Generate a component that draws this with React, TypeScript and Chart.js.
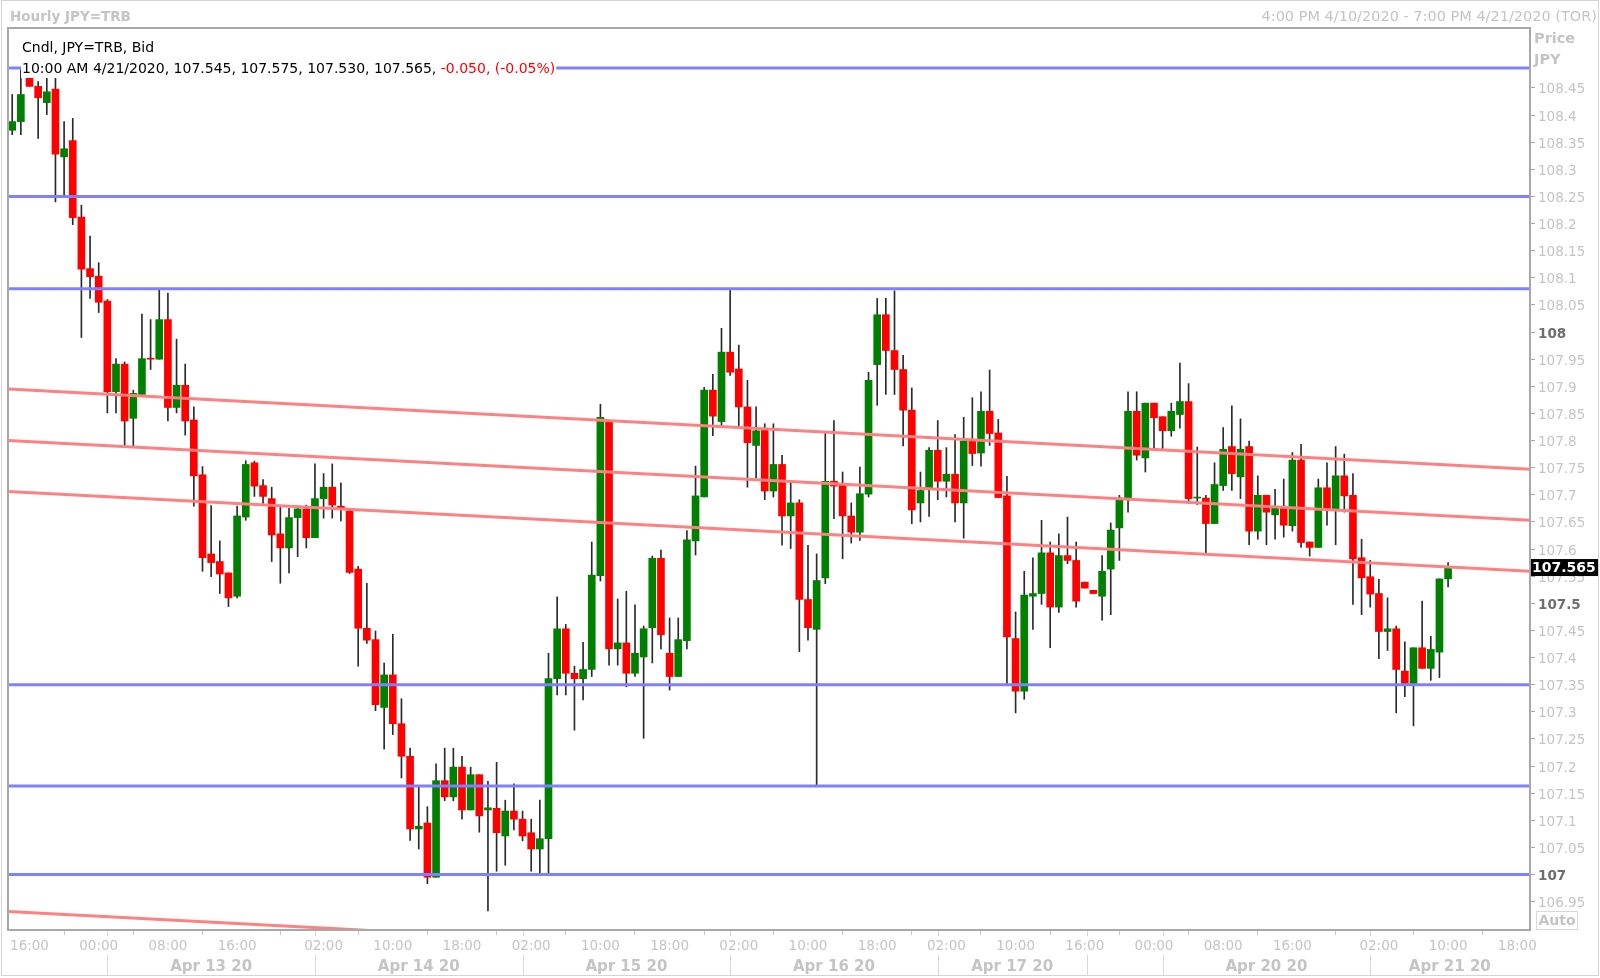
import React, { useEffect, useRef } from 'react';
import { Chart, registerables } from 'chart.js';

Chart.register(...registerables);

// ---- hourly candles (bar index 0 = first visible candle) ----
const opens = [
  108.372, 108.388, 108.471, 108.453, 108.423, 108.448, 108.323, 108.353, 108.212, 108.117,
  108.103, 108.057, 107.890, 107.941, 107.841, 107.885, 107.951, 107.950, 108.023, 107.861,
  107.902, 107.838, 107.737, 107.591, 107.577, 107.556, 107.513, 107.659, 107.759, 107.717,
  107.693, 107.628, 107.602, 107.658, 107.674, 107.621, 107.693, 107.714, 107.679, 107.670,
  107.563, 107.454, 107.433, 107.308, 107.368, 107.278, 107.218, 107.084, 107.095, 106.995,
  107.173, 107.143, 107.198, 107.119, 107.184, 107.119, 107.122, 107.071, 107.117, 107.102,
  107.077, 107.047, 107.066, 107.361, 107.453, 107.371, 107.361, 107.378, 107.551, 107.834,
  107.416, 107.427, 107.371, 107.401, 107.455, 107.583, 107.408, 107.365, 107.431, 107.615,
  107.696, 107.893, 107.835, 107.963, 107.932, 107.862, 107.791, 107.819, 107.707, 107.756,
  107.661, 107.685, 107.507, 107.452, 107.547, 107.725, 107.719, 107.661, 107.631, 107.701,
  107.940, 108.032, 107.966, 107.931, 107.856, 107.685, 107.711, 107.782, 107.725, 107.738,
  107.685, 107.799, 107.777, 107.854, 107.814, 107.698, 107.435, 107.338, 107.513, 107.518,
  107.593, 107.493, 107.588, 107.579, 107.539, 107.524, 107.513, 107.563, 107.639, 107.693,
  107.854, 107.768, 107.869, 107.844, 107.818, 107.848, 107.872, 107.694, 107.694, 107.647,
  107.717, 107.789, 107.733, 107.789, 107.633, 107.699, 107.663, 107.678, 107.643, 107.764,
  107.613, 107.603, 107.713, 107.673, 107.735, 107.699, 107.584, 107.549, 107.518, 107.448,
  107.453, 107.375, 107.352, 107.418, 107.380, 107.410, 107.545,
];
const highs = [
  108.438, 108.484, 108.474, 108.462, 108.471, 108.471, 108.388, 108.394, 108.234, 108.177,
  108.128, 108.060, 107.951, 107.945, 107.893, 108.033, 108.023, 108.078, 108.072, 107.987,
  107.941, 107.862, 107.752, 107.680, 107.615, 107.556, 107.679, 107.763, 107.762, 107.728,
  107.714, 107.677, 107.675, 107.677, 107.681, 107.757, 107.739, 107.757, 107.722, 107.672,
  107.568, 107.537, 107.449, 107.390, 107.443, 107.324, 107.233, 107.162, 107.125, 107.204,
  107.233, 107.233, 107.218, 107.198, 107.184, 107.172, 107.207, 107.137, 107.167, 107.117,
  107.102, 107.137, 107.408, 107.512, 107.461, 107.384, 107.428, 107.613, 107.867, 107.838,
  107.508, 107.522, 107.497, 107.458, 107.587, 107.598, 107.473, 107.473, 107.634, 107.753,
  107.898, 107.922, 108.007, 108.080, 107.976, 107.911, 107.862, 107.831, 107.831, 107.773,
  107.725, 107.691, 107.607, 107.591, 107.813, 107.837, 107.742, 107.685, 107.751, 107.926,
  108.062, 108.062, 108.076, 107.957, 107.897, 107.742, 107.787, 107.837, 107.787, 107.811,
  107.843, 107.879, 107.890, 107.930, 107.839, 107.734, 107.484, 107.559, 107.584, 107.653,
  107.613, 107.628, 107.659, 107.613, 107.539, 107.524, 107.588, 107.648, 107.699, 107.890,
  107.890, 107.869, 107.869, 107.844, 107.869, 107.943, 107.905, 107.788, 107.699, 107.759,
  107.824, 107.864, 107.840, 107.799, 107.735, 107.699, 107.710, 107.729, 107.778, 107.793,
  107.613, 107.729, 107.759, 107.789, 107.775, 107.739, 107.618, 107.579, 107.544, 107.510,
  107.458, 107.429, 107.418, 107.504, 107.439, 107.545, 107.575,
];
const lows = [
  108.364, 108.364, 108.453, 108.357, 108.401, 108.240, 108.250, 108.198, 107.990, 108.062,
  108.036, 107.851, 107.851, 107.789, 107.789, 107.885, 107.931, 107.950, 107.836, 107.851,
  107.810, 107.679, 107.559, 107.549, 107.518, 107.494, 107.510, 107.653, 107.697, 107.684,
  107.577, 107.537, 107.556, 107.586, 107.602, 107.621, 107.657, 107.657, 107.652, 107.555,
  107.384, 107.426, 107.302, 107.231, 107.258, 107.178, 107.063, 107.047, 106.983, 106.995,
  107.136, 107.136, 107.102, 107.119, 107.078, 106.933, 107.006, 107.017, 107.082, 107.062,
  107.006, 107.000, 107.000, 107.331, 107.331, 107.266, 107.322, 107.365, 107.541, 107.386,
  107.386, 107.346, 107.365, 107.251, 107.390, 107.416, 107.340, 107.365, 107.416, 107.589,
  107.696, 107.809, 107.826, 107.920, 107.825, 107.714, 107.731, 107.691, 107.696, 107.607,
  107.601, 107.411, 107.432, 107.164, 107.536, 107.656, 107.582, 107.611, 107.616, 107.696,
  107.865, 107.885, 107.885, 107.790, 107.647, 107.650, 107.660, 107.691, 107.696, 107.650,
  107.620, 107.754, 107.753, 107.791, 107.695, 107.352, 107.298, 107.323, 107.452, 107.498,
  107.418, 107.483, 107.573, 107.493, 107.528, 107.518, 107.469, 107.479, 107.579, 107.668,
  107.764, 107.742, 107.786, 107.782, 107.808, 107.823, 107.684, 107.682, 107.590, 107.647,
  107.708, 107.708, 107.693, 107.608, 107.618, 107.608, 107.618, 107.622, 107.633, 107.603,
  107.587, 107.603, 107.644, 107.608, 107.668, 107.498, 107.479, 107.493, 107.398, 107.413,
  107.298, 107.328, 107.274, 107.380, 107.358, 107.363, 107.530,
];
const closes = [
  108.388, 108.438, 108.453, 108.432, 108.443, 108.328, 108.338, 108.211, 108.116, 108.102,
  108.055, 107.890, 107.941, 107.836, 107.887, 107.951, 107.950, 108.023, 107.861, 107.902,
  107.836, 107.735, 107.584, 107.575, 107.554, 107.510, 107.661, 107.756, 107.716, 107.697,
  107.626, 107.602, 107.658, 107.674, 107.621, 107.693, 107.714, 107.681, 107.676, 107.557,
  107.454, 107.432, 107.313, 107.368, 107.278, 107.218, 107.084, 107.089, 106.995, 107.173,
  107.143, 107.198, 107.119, 107.184, 107.108, 107.123, 107.077, 107.117, 107.102, 107.071,
  107.047, 107.066, 107.361, 107.453, 107.371, 107.361, 107.378, 107.552, 107.843, 107.416,
  107.427, 107.371, 107.408, 107.453, 107.583, 107.442, 107.365, 107.433, 107.617, 107.698,
  107.893, 107.845, 107.963, 107.926, 107.862, 107.796, 107.818, 107.707, 107.756, 107.661,
  107.685, 107.507, 107.455, 107.542, 107.725, 107.716, 107.661, 107.631, 107.702, 107.911,
  108.032, 107.966, 107.931, 107.856, 107.672, 107.708, 107.782, 107.725, 107.738, 107.685,
  107.799, 107.776, 107.854, 107.813, 107.695, 107.438, 107.338, 107.515, 107.518, 107.593,
  107.493, 107.588, 107.579, 107.504, 107.528, 107.518, 107.559, 107.635, 107.694, 107.854,
  107.773, 107.869, 107.842, 107.818, 107.854, 107.872, 107.693, 107.694, 107.647, 107.719,
  107.784, 107.739, 107.784, 107.633, 107.699, 107.668, 107.678, 107.644, 107.764, 107.612,
  107.603, 107.713, 107.673, 107.735, 107.698, 107.582, 107.547, 107.517, 107.448, 107.453,
  107.378, 107.352, 107.418, 107.380, 107.415, 107.545, 107.565,
];

// ---- axes ----
const timeTickIdx = [2, 10, 18, 26, 36, 44, 52, 60, 68, 76, 84, 92, 100, 108, 116, 124, 132, 140, 148, 158, 166, 174];
const timeTickLabels = ['16:00', '00:00', '08:00', '16:00', '02:00', '10:00', '18:00', '02:00', '10:00', '18:00', '02:00', '10:00', '18:00', '02:00', '10:00', '16:00', '00:00', '08:00', '16:00', '02:00', '10:00', '18:00'];
const dateTickIdx = [23, 47, 71, 95, 115.6, 145, 166.2];
const dateTickLabels = ['Apr 13 20', 'Apr 14 20', 'Apr 15 20', 'Apr 16 20', 'Apr 17 20', 'Apr 20 20', 'Apr 21 20'];
const daySeparators = [11, 35, 59, 83, 107, 124.3, 133, 157];
const priceTicks = [106.95, 107, 107.05, 107.1, 107.15, 107.2, 107.25, 107.3, 107.35, 107.4, 107.45, 107.5, 107.55, 107.6, 107.65, 107.7, 107.75, 107.8, 107.85, 107.9, 107.95, 108, 108.05, 108.1, 108.15, 108.2, 108.25, 108.3, 108.35, 108.4, 108.45];
const majorPriceTicks = [107, 107.5, 108];

// ---- drawn studies ----
const levelLines = [108.487, 108.25, 108.08, 107.35, 107.163, 107.0];
const trendStart = [107.895, 107.8, 107.706, 106.932];
const trendEnd = [107.747, 107.653, 107.559, 106.784];

const X_MIN = -0.486;
const X_MAX = 175.47;
const Y_MIN = 106.8977;
const Y_MAX = 108.5606;

const lastPrice = 107.565;
const headerLine1 = 'Cndl, JPY=TRB, Bid';
const headerLine2 = '10:00 AM 4/21/2020, 107.545, 107.575, 107.530, 107.565, ';
const headerChange = '-0.050, (-0.05%)';
const titleText = 'Hourly JPY=TRB';
const rangeText = '4:00 PM 4/10/2020 - 7:00 PM 4/21/2020 (TOR)';

const FONT = '"DejaVu Sans", Verdana, sans-serif';
const LIGHT = '#c4c4c4';

const overlay = {
  id: 'overlay',
  afterDraw(chart: any) {
    const ctx = chart.ctx as CanvasRenderingContext2D;
    const xs = chart.scales.x;
    const ys = chart.scales.y;
    const a = chart.chartArea;
    ctx.save();
    // outer frame
    ctx.strokeStyle = '#d4d4d4';
    ctx.lineWidth = 1;
    ctx.strokeRect(1.5, 0.5, 1597, 975);
    // plot frame
    ctx.strokeStyle = '#a8a8a8';
    ctx.lineWidth = 2;
    ctx.strokeRect(a.left, a.top, a.right - a.left, a.bottom - a.top);

    // day separators
    ctx.strokeStyle = '#d8d8d8';
    ctx.lineWidth = 1;
    daySeparators.forEach((d) => {
      const px = Math.round(xs.getPixelForValue(d)) + 0.5;
      ctx.beginPath();
      ctx.moveTo(px, a.bottom + 1);
      ctx.lineTo(px, a.bottom + 6);
      ctx.moveTo(px, 955);
      ctx.lineTo(px, 975);
      ctx.stroke();
    });

    ctx.textBaseline = 'middle';
    // title
    ctx.fillStyle = LIGHT;
    ctx.font = `bold 13.5px ${FONT}`;
    ctx.textAlign = 'left';
    ctx.fillText(titleText, 10, 17.5);
    ctx.font = `14.5px ${FONT}`;
    ctx.textAlign = 'right';
    ctx.fillText(rangeText, 1597, 17.5);

    // header info
    ctx.textAlign = 'left';
    ctx.font = `14px ${FONT}`;
    ctx.fillStyle = '#000';
    ctx.fillText(headerLine1, 22, 48);
    const w1 = ctx.measureText(headerLine2).width;
    const w2 = ctx.measureText(headerChange).width;
    ctx.fillStyle = '#fff';
    ctx.fillRect(21, 61, w1 + w2 + 2, 17);
    ctx.fillStyle = '#000';
    ctx.fillText(headerLine2, 22, 69.5);
    ctx.fillStyle = '#ff0000';
    ctx.fillText(headerChange, 22 + w1, 69.5);

    // Price / JPY
    ctx.fillStyle = LIGHT;
    ctx.font = `bold 14.5px ${FONT}`;
    ctx.fillText('Price', 1534, 39);
    ctx.fillText('JPY', 1534, 60);

    // last price tag
    const py = ys.getPixelForValue(lastPrice);
    ctx.fillStyle = '#000';
    ctx.fillRect(a.right + 1, py - 9, 1598 - a.right - 1, 17);
    ctx.fillStyle = '#fff';
    ctx.font = `bold 14px ${FONT}`;
    ctx.fillText(String(lastPrice.toFixed(3)), a.right + 2, py);

    // Auto box
    ctx.fillStyle = '#fff';
    ctx.fillRect(1536, 911, 41, 19);
    ctx.strokeStyle = '#d8d8d8';
    ctx.strokeRect(1536.5, 911.5, 41, 18);
    ctx.fillStyle = LIGHT;
    ctx.font = `bold 14px ${FONT}`;
    ctx.textAlign = 'center';
    ctx.fillText('Auto', 1557, 921);
    ctx.restore();
  },
};

function fmtPrice(v: number) {
  return String(parseFloat(v.toFixed(2)));
}
function isMajor(v: number) {
  return majorPriceTicks.some((m) => Math.abs(m - v) < 1e-6);
}

export default function App() {
  const ref = useRef<HTMLCanvasElement | null>(null);
  useEffect(() => {
    if (!ref.current) return;
    const wickData = opens.map((_, i) => ({ x: i, y: [lows[i], highs[i]] }));
    const bodyData = opens.map((o, i) => ({ x: i, y: [o, closes[i]] }));
    const bodyColors = opens.map((o, i) => (closes[i] >= o ? '#008000' : '#ff0000'));
    const levelSets = levelLines.map((v) => ({
      type: 'line' as const,
      data: [{ x: X_MIN, y: v }, { x: X_MAX, y: v }],
      borderColor: '#8080ff',
      borderWidth: 3,
      pointRadius: 0,
      order: 0,
    }));
    const trendSets = trendStart.map((v, k) => ({
      type: 'line' as const,
      data: [{ x: X_MIN, y: v }, { x: X_MAX, y: trendEnd[k] }],
      borderColor: '#ff8080',
      borderWidth: 3,
      pointRadius: 0,
      order: 0,
    }));
    const chart = new Chart(ref.current, {
      type: 'bar',
      data: {
        datasets: [
          ...(levelSets as any[]),
          ...(trendSets as any[]),
          {
            type: 'bar',
            data: bodyData as any,
            backgroundColor: bodyColors,
            borderWidth: 0,
            barThickness: 7,
            minBarLength: 1,
            grouped: false,
            order: 1,
          },
          {
            type: 'bar',
            data: wickData as any,
            backgroundColor: '#2a2a2a',
            borderWidth: 0,
            barThickness: 1,
            grouped: false,
            order: 2,
          },
        ],
      },
      options: {
        animation: false,
        responsive: false,
        events: [],
        layout: { padding: { left: 8, top: 28, right: 0, bottom: 0 } },
        plugins: { legend: { display: false }, tooltip: { enabled: false }, title: { display: false } },
        scales: {
          x: {
            type: 'linear',
            position: 'bottom',
            weight: 0,
            min: X_MIN,
            max: X_MAX,
            offset: false,
            grid: { drawOnChartArea: false, drawTicks: true, tickLength: 5, color: '#c8c8c8' },
            border: { display: false },
            ticks: {
              autoSkip: false,
              maxRotation: 0,
              padding: 3,
              color: LIGHT,
              font: { family: FONT, size: 13.5 },
              callback: (v: any) => {
                const k = timeTickIdx.indexOf(Number(v));
                return k >= 0 ? timeTickLabels[k] : '';
              },
            },
            afterBuildTicks: (s: any) => {
              s.ticks = timeTickIdx.map((v) => ({ value: v }));
            },
            afterFit: (s: any) => {
              s.height = 20;
            },
          },
          x2: {
            type: 'linear',
            axis: 'x',
            position: 'bottom',
            weight: 1,
            min: X_MIN,
            max: X_MAX,
            offset: false,
            grid: { display: false, drawTicks: false },
            border: { display: false },
            ticks: {
              autoSkip: false,
              maxRotation: 0,
              padding: 8,
              color: LIGHT,
              font: { family: FONT, size: 15, weight: 'bold' },
              callback: (v: any) => {
                const k = dateTickIdx.indexOf(Number(v));
                return k >= 0 ? dateTickLabels[k] : '';
              },
            },
            afterBuildTicks: (s: any) => {
              s.ticks = dateTickIdx.map((v) => ({ value: v }));
            },
            afterFit: (s: any) => {
              s.height = 28;
            },
          },
          y: {
            type: 'linear',
            position: 'right',
            min: Y_MIN,
            max: Y_MAX,
            grid: { drawOnChartArea: false, drawTicks: true, tickLength: 5, color: '#a8a8a8' },
            border: { display: false },
            ticks: {
              padding: 3,
              labelOffset: 2,
              autoSkip: false,
              color: (c: any) => (isMajor(c.tick?.value) ? '#6e6e6e' : LIGHT),
              font: (c: any) => ({ family: FONT, size: 13.5, weight: isMajor(c.tick?.value) ? 'bold' : 'normal' }),
              callback: (v: any) => fmtPrice(Number(v)),
            },
            afterBuildTicks: (s: any) => {
              s.ticks = priceTicks.map((v) => ({ value: v }));
            },
            afterFit: (s: any) => {
              s.width = 70;
            },
          },
        },
      } as any,
      plugins: [overlay],
    });
    return () => chart.destroy();
  }, []);
  return (
    <div style={{ position: 'fixed', left: 0, top: 0, width: 1600, height: 978, background: '#fff' }}>
      <canvas ref={ref} width={1600} height={978} style={{ display: 'block' }} />
    </div>
  );
}
